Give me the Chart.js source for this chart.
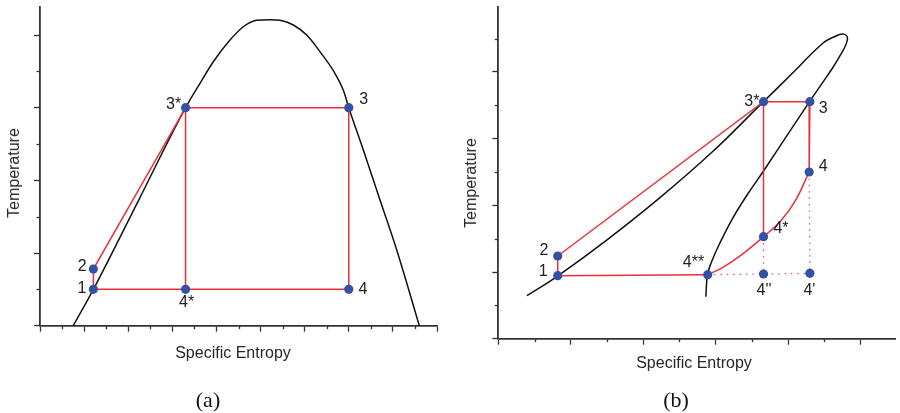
<!DOCTYPE html>
<html>
<head>
<meta charset="utf-8">
<script src="https://cdn.jsdelivr.net/npm/chart.js@4/dist/chart.umd.min.js"></script>
<style>
  html, body { margin:0; padding:0; background:#fff; }
  body { width:900px; height:413px; position:relative; overflow:hidden; }
  .panel { position:absolute; top:0; width:450px; height:413px; }
  .t { position:absolute; font-family:'Liberation Sans', Arial, sans-serif; font-size:16px; color:#262626; white-space:nowrap; line-height:1; transform:translate(-50%,-50%); }
  .rot { transform:translate(-50%,-50%) rotate(-90deg); }
  .cap { position:absolute; font-family:'Liberation Serif', 'Times New Roman', serif; font-size:22px; color:#111; white-space:nowrap; line-height:1; transform:translate(-50%,-50%); }
</style>
</head>
<body>
<div class="panel" style="left:0"><canvas id="ca"></canvas></div>
<div class="panel" style="left:450px"><canvas id="cb"></canvas></div>
<div class="t rot" style="left:14px;top:173px">Temperature</div>
<div class="t" style="left:233px;top:353px">Specific Entropy</div>
<div class="cap" style="left:208px;top:400px">(a)</div>
<div class="t rot" style="left:471px;top:182.5px">Temperature</div>
<div class="t" style="left:694px;top:362.5px">Specific Entropy</div>
<div class="cap" style="left:676px;top:400px">(b)</div>
<script>
// ---------- Panel (a) data ----------
const A_domeS = [0.755, 1.21, 2.255, 3.30, 3.627, 3.929, 4.307, 4.609, 4.913, 5.214, 5.441, 5.742, 6.046, 6.348, 6.650, 6.877, 7.00, 7.33, 7.708, 8.087, 8.60];
const A_domeT = [0.00, 0.50, 1.75, 3.00, 3.336, 3.633, 3.931, 4.114, 4.203, 4.211, 4.203, 4.138, 4.00, 3.77, 3.51, 3.24, 3.00, 2.418, 1.73, 1.042, 0.00];
const A_labels = ['1', '2', '3*', '3', '4', '4*'];
const A_S = [1.21, 1.21, 3.30, 7.00, 7.00, 3.30];
const A_T = [0.50, 0.78, 3.00, 3.00, 0.50, 0.50];
const A_redPath = [0, 1, 2, 3, 4, 5, 0];
const A_redVert = [2, 5];
const A_xMax = 9, A_yMax = 4.386;

// ---------- Panel (b) data ----------
const B_satS = [0.395, 0.818, 1.519, 2.235, 2.951, 3.660, 4.069, 4.478, 4.660, 4.751, 4.803, 4.819, 4.789, 4.714, 4.615, 4.432, 4.296, 3.978, 3.660, 3.433, 3.228, 3.051, 2.942, 2.887, 2.864];
const B_satT = [0.645, 0.940, 1.498, 2.119, 2.799, 3.555, 3.991, 4.431, 4.540, 4.570, 4.548, 4.495, 4.390, 4.240, 4.063, 3.772, 3.555, 3.037, 2.515, 2.155, 1.795, 1.420, 1.150, 0.963, 0.630];
const B_labels = ['1', '2', '3*', '3', '4', '4*', '4**', "4''", "4'"];
const B_S = [0.82, 0.82, 3.66, 4.30, 4.29, 3.66, 2.89, 3.66, 4.30];
const B_T = [0.945, 1.24, 3.555, 3.555, 2.50, 1.53, 0.96, 0.97, 0.98];
const B_curveS = [2.89, 3.10, 3.36, 3.66, 3.90, 4.10, 4.29];
const B_curveT = [0.96, 1.07, 1.26, 1.53, 1.77, 2.07, 2.50];
const B_redPath = [6, 0, 1, 2, 3, 4];
const B_redVert = [2, 5];
const B_dotH = [6, 7, 8];
const B_dotV1 = [5, 7];
const B_dotV2 = [4, 8];
const B_xMax = 5.48, B_yMax = 4.97;

// ---------- styling (not data) ----------
const AXIS = '#333', RED = '#e8303a', BLUE = '#3352a3', BLACK = '#111';
const A_labelOffsets = { '1': [-11.5, -1.2], '2': [-11.1, -2.5], '3*': [-12, -3.3], '3': [14.8, -8.6], '4': [14.2, 0], '4*': [1, 13.5] };
const B_labelOffsets = { '1': [-14.6, -3.8], '2': [-13.7, -5.5], '3*': [-11.7, 0], '3': [13.4, 6.6], '4': [14, -5.8], '4*': [17.5, -8.2], '4**': [-14.2, -11.7], "4''": [0.5, 16.5], "4'": [-0.5, 17.2] };

const pts = (xs, ys) => xs.map((x, i) => ({ x, y: ys[i] }));
const pick = (xs, ys, idx) => idx.map(i => ({ x: xs[i], y: ys[i] }));

const lineDs = (data, color, extra) => Object.assign({
  data, showLine: true, borderColor: color, borderWidth: 1.5, pointRadius: 0,
  pointHoverRadius: 0, fill: false, tension: 0
}, extra || {});
const dotDs = (data) => ({ data, showLine: false, pointRadius: 4.6, pointHoverRadius: 4.6,
  pointBackgroundColor: BLUE, pointBorderColor: BLUE, pointBorderWidth: 0 });

const minorTicks = {
  id: 'minorTicks',
  afterDraw(chart) {
    const ctx = chart.ctx;
    ctx.save();
    ctx.strokeStyle = AXIS; ctx.lineWidth = 1.3;
    const xs = chart.scales.x, ys = chart.scales.y;
    for (let v = 0.5; v < xs.max; v += 1) {
      const p = Math.round(xs.getPixelForValue(v)) + 0.5;
      ctx.beginPath(); ctx.moveTo(p, ys.bottom); ctx.lineTo(p, ys.bottom + 3.5); ctx.stroke();
    }
    for (let v = 0.5; v < ys.max; v += 1) {
      const p = Math.round(ys.getPixelForValue(v)) + 0.5;
      ctx.beginPath(); ctx.moveTo(xs.left, p); ctx.lineTo(xs.left - 3.5, p); ctx.stroke();
    }
    ctx.restore();
  }
};

const pointLabels = {
  id: 'pointLabels',
  afterDatasetsDraw(chart, args, opts) {
    const ctx = chart.ctx;
    ctx.save();
    ctx.font = '16px "Liberation Sans", Arial, sans-serif';
    ctx.fillStyle = '#222';
    ctx.textAlign = 'center';
    ctx.textBaseline = 'middle';
    opts.labels.forEach((lab, i) => {
      const px = chart.scales.x.getPixelForValue(opts.xs[i]);
      const py = chart.scales.y.getPixelForValue(opts.ys[i]);
      const off = opts.offsets[lab] || [0, 0];
      ctx.fillText(lab, px + off[0], py + off[1]);
    });
    ctx.restore();
  }
};

function scales(xMax, yMax) {
  const mk = (max) => ({
    type: 'linear', min: 0, max,
    border: { display: true, color: AXIS, width: 1.8 },
    grid: { drawOnChartArea: false, drawTicks: true, tickLength: 6, tickWidth: 1.3,
      tickColor: (c) => (c.tick && Math.abs(c.tick.value - Math.round(c.tick.value)) < 1e-6) ? AXIS : 'rgba(0,0,0,0)' },
    ticks: { display: false, stepSize: 0.5, includeBounds: false },
    title: { display: false }
  });
  return { x: mk(xMax), y: mk(yMax) };
}

function baseOptions(pad, xMax, yMax, labelOpts) {
  return {
    responsive: true, maintainAspectRatio: false, animation: false, devicePixelRatio: 1,
    layout: { padding: pad },
    scales: scales(xMax, yMax),
    plugins: { legend: { display: false }, tooltip: { enabled: false }, pointLabels: labelOpts },
    events: []
  };
}

new Chart(document.getElementById('ca'), {
  type: 'scatter',
  data: { datasets: [
    dotDs(pts(A_S, A_T)),
    lineDs(pick(A_S, A_T, A_redPath), RED),
    lineDs(pick(A_S, A_T, A_redVert), RED),
    lineDs(pts(A_domeS, A_domeT), BLACK, { cubicInterpolationMode: 'monotone' })
  ]},
  options: baseOptions({ left: 34, top: 7, right: 13, bottom: 81.3 }, A_xMax, A_yMax,
    { labels: A_labels, xs: A_S, ys: A_T, offsets: A_labelOffsets }),
  plugins: [minorTicks, pointLabels]
});

new Chart(document.getElementById('cb'), {
  type: 'scatter',
  data: { datasets: [
    dotDs(pts(B_S, B_T)),
    lineDs(pick(B_S, B_T, B_redPath), RED),
    lineDs(pick(B_S, B_T, B_redVert), RED),
    lineDs(pts(B_curveS, B_curveT), RED, { tension: 0.4 }),
    lineDs(pick(B_S, B_T, B_dotH), 'rgba(232,48,58,0.85)', { borderDash: [1.4, 5], borderWidth: 1.3 }),
    lineDs(pick(B_S, B_T, B_dotV1), 'rgba(232,48,58,0.85)', { borderDash: [1.4, 5], borderWidth: 1.3 }),
    lineDs(pick(B_S, B_T, B_dotV2), 'rgba(232,48,58,0.85)', { borderDash: [1.4, 5], borderWidth: 1.3 }),
    lineDs(pts(B_satS, B_satT), BLACK, { tension: 0.4 })
  ]},
  options: baseOptions({ left: 42.3, top: 7.3, right: 0, bottom: 68.3 }, B_xMax, B_yMax,
    { labels: B_labels, xs: B_S, ys: B_T, offsets: B_labelOffsets }),
  plugins: [minorTicks, pointLabels]
});
</script>
</body>
</html>
